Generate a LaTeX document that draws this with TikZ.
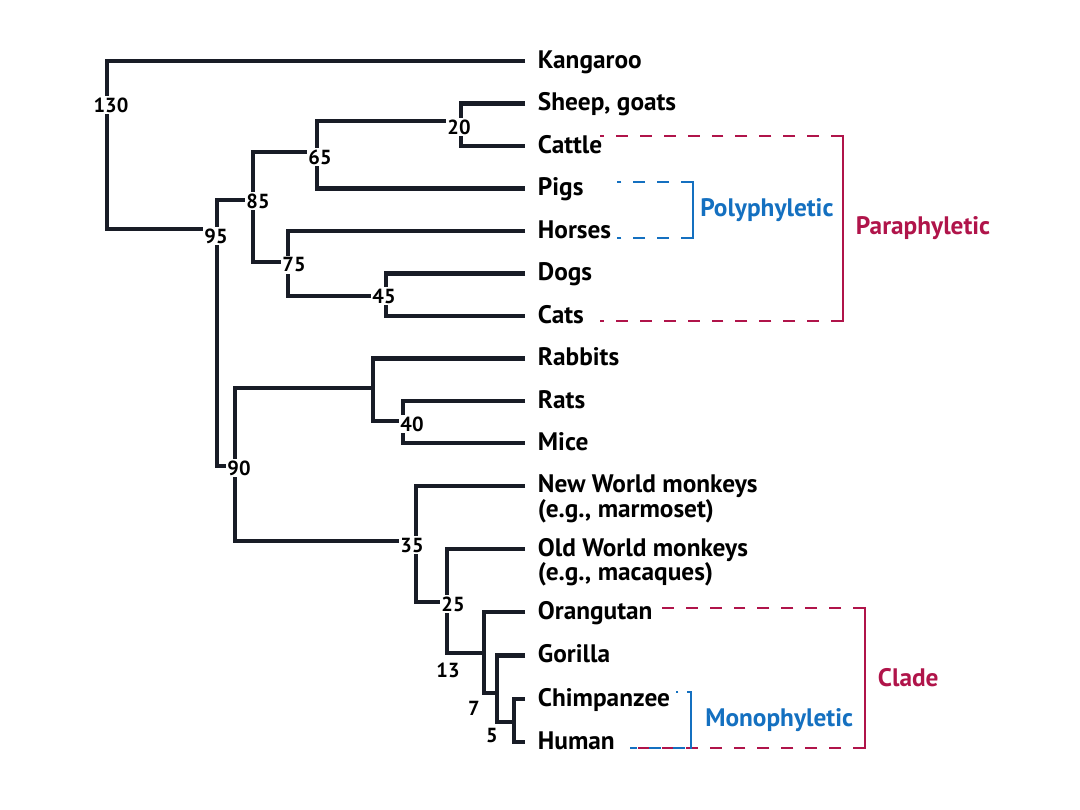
\documentclass[tikz,border=0pt]{standalone}
\usepackage{fontspec}
\setmainfont{PT Sans}
\usepackage{tikz}
\usetikzlibrary{positioning,calc}

\definecolor{treeC}{RGB}{24,28,38}
\definecolor{paraC}{RGB}{176,20,74}
\definecolor{polyC}{RGB}{20,112,192}

\begin{document}
\begin{tikzpicture}[x=0.025cm, y=-0.025cm,
    % ---------- estilos ----------
    brnch/.style={draw=treeC, line width=3pt},
    leaf/.style={anchor=west, inner xsep=9pt, inner ysep=0pt, text=black,
      font=\fontsize{18}{15.6}\selectfont\bfseries, text height=13pt, text depth=2.5pt},
    leafii/.style={anchor=north west, inner xsep=9pt, inner ysep=0pt, text=black,
      font=\fontsize{18}{15.6}\selectfont\bfseries, align=left, yshift=8pt},
    age/.style={fill=white, inner sep=1.2pt, text=black,
      font=\fontsize{14.5}{14.5}\selectfont\bfseries},
    grpdash/.style={line width=2.1pt, dash pattern=on 8.5pt off 8.5pt},
    grpbar/.style={line width=2.1pt, line cap=rect},
    grplbl/.style={inner sep=0pt, font=\fontsize{18}{18}\selectfont\bfseries}
]

\def\tipX{525}

\useasboundingbox (0,0) rectangle (1080,810);

% ====== Puntas de las ramas ======
\foreach \nm/\yy in {kang/61, sheep/103.5, cattle/146, pigs/188.5, horses/231,
    dogs/273.5, cats/316, rabbits/358.5, rats/401, mice/443, nwm/486,
    owm/549, orang/612, gorilla/655.5, chimp/699, human/742}
  \coordinate (\nm) at (\tipX,\yy);

% ====== Nombres de especie ======
\node[leaf] (kangT) at (kang) {Kangaroo};
\node[leaf] (sheepT) at (sheep) {Sheep, goats};
\node[leaf] (cattleT) at (cattle) {Cattle};
\node[leaf] (pigsT) at (pigs) {Pigs};
\node[leaf] (horsesT) at (horses) {Horses};
\node[leaf] (dogsT) at (dogs) {Dogs};
\node[leaf] (catsT) at (cats) {Cats};
\node[leaf] (rabbitsT) at (rabbits) {Rabbits};
\node[leaf] (ratsT) at (rats) {Rats};
\node[leaf] (miceT) at (mice) {Mice};
\node[leafii] (nwmT) at (nwm) {New World monkeys\\(e.g., marmoset)};
\node[leafii] (owmT) at (owm) {Old World monkeys\\(e.g., macaques)};
\node[leaf] (orangT) at (orang) {Orangutan};
\node[leaf] (gorillaT) at (gorilla) {Gorilla};
\node[leaf] (chimpT) at (chimp) {Chimpanzee};
\node[leaf] (humanT) at (human) {Human};

% ====== Nodos internos ======
\coordinate (n130) at (107,145);
\coordinate (n95) at (217,229);
\coordinate (n85) at (253,200);
\coordinate (n65) at (317,152);
\coordinate (n20) at (461,121);
\coordinate (n75) at (288,262);
\coordinate (n45) at (386,296);
\coordinate (n90) at (235,466);
\coordinate (nglir) at (373,388);
\coordinate (n40) at (403,421);
\coordinate (n35) at (416,541);
\coordinate (n25) at (447,602);
\coordinate (n13) at (484,653);
\coordinate (n7) at (497,693);
\coordinate (n5) at (514,722);

% ====== Ramas ======
\foreach \a/\n/\b in {sheep/n20/cattle, n20/n65/pigs, dogs/n45/cats,
    horses/n75/n45, n65/n85/n75, n85/n95/n90, kang/n130/n95,
    rats/n40/mice, rabbits/nglir/n40, nglir/n90/n35, nwm/n35/n25,
    owm/n25/n13, orang/n13/n7, gorilla/n7/n5, chimp/n5/human}
  \draw[brnch] (\a) -| (\n) |- (\b);

% ====== Edades ======
\node[age] (a130) at (111,105) {130};
\node[age] (a95) at (216,236) {95};
\node[age] (a85) at (258,201) {85};
\node[age] (a65) at (320,157) {65};
\node[age] (a20) at (459,127) {20};
\node[age] (a75) at (294,265) {75};
\node[age] (a45) at (384,296) {45};
\node[age] (a40) at (412,424) {40};
\node[age] (a90) at (239,468) {90};
\node[age] (a35) at (412,545) {35};
\node[age] (a25) at (453,604) {25};
\node[age] (a13) at (448,670) {13};
\node[age] (a7) at (474,708) {7};
\node[age] (a5) at (492,735) {5};

% ====== Grupos ======
\coordinate (paraT) at (843,136);  \coordinate (paraTL) at (600,136);
\coordinate (paraB) at (843,321);  \coordinate (paraBL) at (600,321);
\coordinate (polyT) at (693,182);  \coordinate (polyTL) at (617,182);
\coordinate (polyB) at (693,238);  \coordinate (polyBL) at (617,238);
\coordinate (cladeT) at (865,608); \coordinate (cladeTL) at (655,608);
\coordinate (cladeB) at (865,748); \coordinate (cladeBL) at (630,748);
\coordinate (monoT) at (691,692);  \coordinate (monoTL) at (676,692);
\coordinate (monoB) at (691,748);  \coordinate (monoBL) at (630,748);

\draw[grpdash, draw=paraC] (paraT) -- (paraTL);
\draw[grpdash, draw=paraC] (paraB) -- (paraBL);
\draw[grpbar, draw=paraC] (paraT) -- (paraB);

\draw[grpdash, draw=polyC] (polyT) -- (polyTL);
\draw[grpdash, draw=polyC] (polyB) -- (polyBL);
\draw[grpbar, draw=polyC] (polyT) -- (polyB);

\draw[grpdash, draw=paraC] (cladeT) -- (cladeTL);
\draw[grpdash, draw=paraC] (cladeB) -- (cladeBL);
\draw[grpbar, draw=paraC] (cladeT) -- (cladeB);

\draw[grpdash, draw=polyC, dash pattern=on 3pt off 6pt on 2pt off 6pt] (monoT) -- (monoTL);
\draw[grpdash, draw=polyC, dash phase=12.8pt] (monoB) -- (monoBL);
\draw[grpbar, draw=polyC] (monoT) -- (monoB);

\coordinate (paraM) at ($(paraT)!0.5!(paraB)$);
\coordinate (polyM) at ($(polyT)!0.5!(polyB)$);
\coordinate (cladeM) at ($(cladeT)!0.5!(cladeB)$);
\coordinate (monoM) at ($(monoT)!0.5!(monoB)$);

\node[grplbl, text=paraC, right=9pt of paraM] (paraL) {Paraphyletic};
\node[grplbl, text=polyC, right=5pt of polyM] (polyL) {Polyphyletic};
\node[grplbl, text=paraC, right=9pt of cladeM] (cladeL) {Clade};
\node[grplbl, text=polyC, right=10pt of monoM] (monoL) {Monophyletic};

\end{tikzpicture}
\end{document}
